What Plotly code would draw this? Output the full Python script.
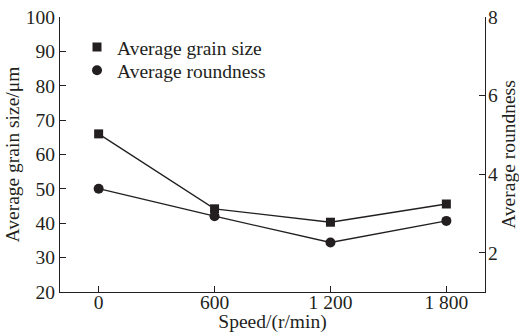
import plotly.graph_objects as go

speed = [0, 600, 1200, 1800]
grain_size = [66, 44.2, 40.3, 45.6]
roundness = [3.63, 2.93, 2.26, 2.81]

x_tickvals = [0, 600, 1200, 1800]
x_ticktext = ["0", "600", "1 200", "1 800"]
ink = "#231f20"
font_family = "Liberation Serif"
fs = 19.5

fig = go.Figure()
# connecting lines (no legend)
fig.add_trace(go.Scatter(
    x=speed, y=grain_size, mode="lines", showlegend=False, hoverinfo="skip",
    line=dict(color=ink, width=1.3),
))
fig.add_trace(go.Scatter(
    x=speed, y=roundness, mode="lines", showlegend=False, hoverinfo="skip",
    yaxis="y2", line=dict(color=ink, width=1.3),
))
# markers (legend entries)
fig.add_trace(go.Scatter(
    x=speed, y=grain_size, name="Average grain size", mode="markers",
    marker=dict(symbol="square", size=9, color=ink), legend="legend",
))
fig.add_trace(go.Scatter(
    x=speed, y=roundness, name="Average roundness", mode="markers",
    yaxis="y2", marker=dict(symbol="circle", size=10, color=ink), legend="legend2",
))

axis_common = dict(
    showline=True, linecolor=ink, linewidth=1.3, ticks="inside", ticklen=6,
    tickcolor=ink, tickwidth=1.3, showgrid=False, zeroline=False,
    tickfont=dict(family=font_family, size=fs, color=ink),
    automargin=False,
)
legend_common = dict(xanchor="left", yanchor="middle", bgcolor="rgba(0,0,0,0)",
                     font=dict(family=font_family, size=fs, color=ink))

fig.update_layout(
    width=519, height=333,
    margin=dict(l=60, r=34, t=17, b=41),
    paper_bgcolor="white", plot_bgcolor="white",
    font=dict(family=font_family, size=fs, color=ink),
    showlegend=True,
    legend=dict(x=0.04, y=0.89, **legend_common),
    legend2=dict(x=0.04, y=0.805, **legend_common),
    xaxis=dict(range=[-200, 2000], tickvals=x_tickvals, ticktext=x_ticktext,
               ticklabelstandoff=-8,
               title=dict(text="Speed/(r/min)", standoff=0, font=dict(size=fs)),
               **axis_common),
    yaxis=dict(range=[20, 100], dtick=10,
               title=dict(text="Average grain size/μm", standoff=0, font=dict(size=fs)),
               **axis_common),
    yaxis2=dict(range=[1, 8], tickvals=[2, 4, 6, 8], overlaying="y", side="right",
                ticklabelstandoff=-2,
                title=dict(text="Average roundness", standoff=0, font=dict(size=fs)),
                **axis_common),
)

fig.write_html("out.html", config={"displayModeBar": False},
               post_script="document.body.style.margin='0';")
